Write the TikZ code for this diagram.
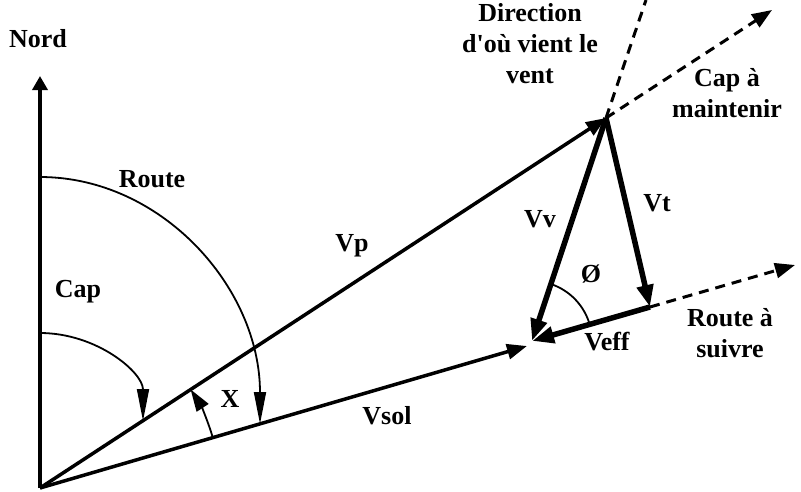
\documentclass[tikz,border=0pt]{standalone}
\usepackage{fontspec}
\setmainfont{Liberation Serif}[Ligatures=TeXOff]
\usepackage{tikz}
\usetikzlibrary{arrows.meta}

\begin{document}
\begin{tikzpicture}[x=1pt,y=-1pt,
  lbl/.style={font=\fontsize{26}{31}\selectfont\bfseries,align=center,inner sep=0pt},
  vec/.style={-{Triangle[length=20pt,width=15pt]},line width=3.5pt},
  heavy/.style={-{Triangle[length=22pt,width=16pt]},line width=5.5pt},
  guide/.style={dash pattern=on 10pt off 7pt,line width=3pt},
  anglearc/.style={line width=1.8pt}]
\useasboundingbox (0,0) rectangle (801,491);
% points of the speed triangle
\coordinate (O) at (40,488);
\coordinate (N) at (40,76);
\coordinate (P) at (606,118);
\coordinate (S) at (527,346);
\coordinate (A) at (532,341);
\coordinate (Q) at (650,307);
\coordinate (W) at (646,0);
\coordinate (C) at (772,10);
\coordinate (R) at (795,265);
% labels
\node[lbl] (nord) at (38,39) {Nord};
\node[lbl] (wind) at (530,44) {Direction\\d'où vient le\\vent};
\node[lbl] (capm) at (727,93) {Cap à\\maintenir};
\node[lbl] (route) at (152,179) {Route};
\node[lbl] (cap) at (78,292) {Cap};
\node[lbl] (vp) at (352,246) {Vp};
\node[lbl] (vv) at (540,219) {Vv};
\node[lbl] (vt) at (657,203) {Vt};
\node[lbl] (phi) at (591,274) {Ø};
\node[lbl] (veff) at (607,342) {Veff};
\node[lbl] (suivre) at (730,333) {Route à\\suivre};
\node[lbl] (xang) at (230,399) {X};
\node[lbl] (vsol) at (387,416) {Vsol};
% dashed guides
\draw[guide] (P) -- (W);
\draw[guide,-{Triangle[length=20pt,width=15pt]}] (P) -- (C);
\draw[guide,-{Triangle[length=20pt,width=15pt]}] (Q) -- (R);
% vectors
\draw[vec,-{Triangle[length=14pt,width=15pt]}] (O) -- (N);
\draw[vec] (O) -- (P);
\draw[vec] (O) -- (S);
\draw[heavy] (P) -- (A);
\draw[heavy] (P) -- (Q);
\draw[heavy] (Q) -- (A);
% angles
\draw[anglearc,-{Triangle[length=32pt,width=12pt]}] (40,177) arc[start angle=-90,end angle=0,x radius=220,y radius=247];
\draw[anglearc,-{Triangle[length=32pt,width=12pt]}] (40,333) arc[start angle=-90,end angle=0,x radius=103,y radius=88];
\draw[anglearc,-{Triangle[length=22pt,width=14pt]}] (O) ++(-16.3:180) arc[start angle=-16.3,end angle=-33.2,radius=180];
\draw[anglearc] (A) ++(-71.6:60) arc[start angle=-71.6,end angle=-16.1,radius=60];
\end{tikzpicture}
\end{document}
